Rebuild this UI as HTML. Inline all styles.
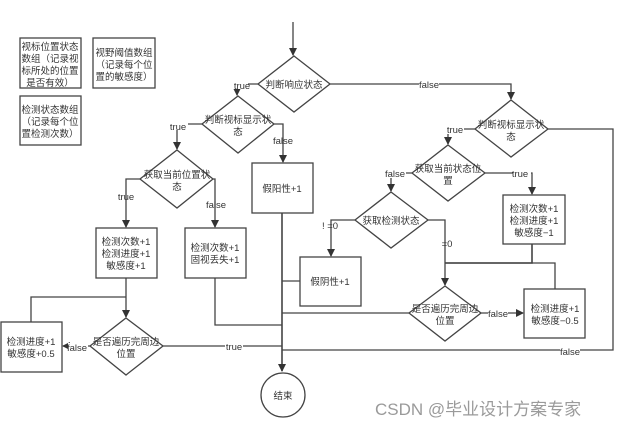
<!DOCTYPE html>
<html><head><meta charset="utf-8"><style>
html,body{margin:0;padding:0;background:#fff;}
svg{display:block}
text{font-family:"Liberation Sans","Noto Sans CJK SC",sans-serif;font-size:9.5px;fill:#333;}
</style></head><body>
<svg width="621" height="428" viewBox="0 0 621 428" xmlns="http://www.w3.org/2000/svg">
<defs><marker id="a" markerWidth="8" markerHeight="8" refX="7" refY="4" orient="auto" markerUnits="userSpaceOnUse"><path d="M0,0 L8,4 L0,8 z" fill="#333"/></marker></defs>
<g fill="none" stroke="#444" stroke-width="1.3">
<!-- legend boxes -->
<rect x="20" y="38" width="61" height="50"/>
<rect x="93" y="38" width="62" height="50"/>
<rect x="20" y="96" width="61" height="49"/>
<!-- start -->
<line x1="293" y1="22" x2="293" y2="55" marker-end="url(#a)"/>
<polygon points="294,56 330,84 294,112 258,84"/>
<polyline points="258,84 237,84 237,95" marker-end="url(#a)"/>
<polygon points="238,96 274,124 238,153 202,124"/>
<polyline points="274,124 283,124 283,162" marker-end="url(#a)"/>
<rect x="252" y="163" width="61" height="50"/>
<polyline points="202,124 177,124 177,149" marker-end="url(#a)"/>
<polygon points="177,150 213,179 177,208 140,179"/>
<polyline points="140,179 126,179 126,227" marker-end="url(#a)"/>
<polyline points="213,179 215,179 215,227" marker-end="url(#a)"/>
<rect x="96" y="228" width="61" height="50"/>
<rect x="185" y="228" width="61" height="50"/>
<line x1="126" y1="278" x2="126" y2="317" marker-end="url(#a)"/>
<polyline points="126,297 31,297 31,322"/>
<polygon points="126,318 163,346 126,375 90,346"/>
<line x1="90" y1="346" x2="63" y2="346" marker-end="url(#a)"/>
<rect x="1" y="322" width="61" height="50"/>
<line x1="163" y1="346" x2="282" y2="346"/>
<polyline points="215,278 215,325 282,325"/>
<line x1="282" y1="213" x2="282" y2="371" marker-end="url(#a)" stroke-width="1.6"/>
<circle cx="283" cy="395" r="22"/>
<!-- right side -->
<polyline points="330,84 511,84 511,99" marker-end="url(#a)"/>
<polygon points="511,100 548,129 511,157 475,129"/>
<polyline points="548,129 613,129 613,350 282,350"/>
<polyline points="475,129 448,129 448,144" marker-end="url(#a)"/>
<polygon points="448,145 485,173 448,201 412,173"/>
<polyline points="485,173 532,173 532,194" marker-end="url(#a)"/>
<rect x="503" y="195" width="62" height="49"/>
<polyline points="412,173 391,173 391,191" marker-end="url(#a)"/>
<polygon points="391,192 428,220 391,248 355,220"/>
<polyline points="355,220 331,220 331,256" marker-end="url(#a)"/>
<rect x="300" y="257" width="61" height="49"/>
<line x1="300" y1="281" x2="282" y2="281"/>
<polyline points="428,220 445,220 445,285" marker-end="url(#a)"/>
<polyline points="532,244 532,263 445,263" stroke-width="1.6"/>
<polyline points="445,263 555,263 555,289"/>
<polygon points="445,286 481,313 445,341 409,313"/>
<line x1="409" y1="313" x2="282" y2="313"/>
<line x1="481" y1="313" x2="523" y2="313" marker-end="url(#a)"/>
<rect x="524" y="289" width="61" height="49"/>
</g>
<g text-anchor="middle">
<text x="50" y="50">视标位置状态</text><text x="50" y="62">数组（记录视</text><text x="50" y="74">标所处的位置</text><text x="50" y="86">是否有效）</text>
<text x="124" y="56">视野阈值数组</text><text x="124" y="68">（记录每个位</text><text x="124" y="80">置的敏感度）</text>
<text x="50" y="113">检测状态数组</text><text x="50" y="125">（记录每个位</text><text x="50" y="137">置检测次数）</text>
<text x="294" y="88">判断响应状态</text>
<text x="238" y="123">判断视标显示状</text><text x="238" y="135">态</text>
<text x="177" y="178">获取当前位置状</text><text x="177" y="190">态</text>
<text x="282" y="192">假阳性+1</text>
<text x="126" y="245">检测次数+1</text><text x="126" y="257">检测进度+1</text><text x="126" y="269">敏感度+1</text>
<text x="215" y="251">检测次数+1</text><text x="215" y="263">固视丢失+1</text>
<text x="126" y="345">是否遍历完周边</text><text x="126" y="357">位置</text>
<text x="31" y="345">检测进度+1</text><text x="31" y="357">敏感度+0.5</text>
<text x="283" y="399">结束</text>
<text x="511" y="128">判断视标显示状</text><text x="511" y="140">态</text>
<text x="448" y="172">获取当前状态位</text><text x="448" y="184">置</text>
<text x="534" y="212">检测次数+1</text><text x="534" y="224">检测进度+1</text><text x="534" y="236">敏感度−1</text>
<text x="391" y="224">获取检测状态</text>
<text x="330" y="285">假阴性+1</text>
<text x="445" y="312">是否遍历完周边</text><text x="445" y="324">位置</text>
<text x="555" y="312">检测进度+1</text><text x="555" y="324">敏感度−0.5</text>
</g>
<g text-anchor="middle" style="font-size:9px">
<rect x="230" y="80" width="18" height="9" fill="#fff"/><text x="242" y="89">true</text>
<rect x="419" y="80" width="20" height="9" fill="#fff"/><text x="429" y="88">false</text>
<rect x="170" y="121" width="18" height="9" fill="#fff"/><text x="178" y="130">true</text>
<text x="283" y="144">false</text>
<text x="126" y="200">true</text>
<text x="216" y="208">false</text>
<rect x="446" y="125" width="18" height="9" fill="#fff"/><text x="455" y="133">true</text>
<rect x="386" y="169" width="20" height="9" fill="#fff"/><text x="395" y="177">false</text>
<rect x="513" y="169" width="18" height="9" fill="#fff"/><text x="520" y="177">true</text>
<text x="330" y="229">! =0</text>
<text x="447" y="247">=0</text>
<rect x="488" y="309" width="20" height="9" fill="#fff"/><text x="498" y="317">false</text>
<rect x="560" y="346" width="20" height="9" fill="#fff"/><text x="570" y="355">false</text>
<rect x="68" y="343" width="20" height="9" fill="#fff"/><text x="77" y="351">false</text>
<rect x="225" y="342" width="18" height="9" fill="#fff"/><text x="234" y="350">true</text>
</g>
<text x="375" y="415" style="font-size:17px;fill:#9a9a9a">CSDN @毕业设计方案专家</text>
</svg>
</body></html>
